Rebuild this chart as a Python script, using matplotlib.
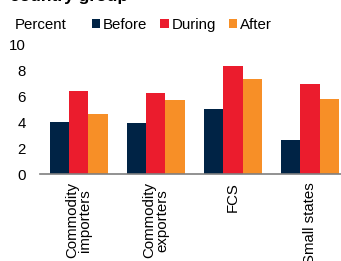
import matplotlib
matplotlib.use("Agg")
import matplotlib.pyplot as plt
import numpy as np

plt.rcParams['font.family'] = ['Liberation Sans', 'DejaVu Sans']

categories = ["Commodity\nimporters", "Commodity\nexporters", "FCS", "Small states"]
series_names = ["Before", "During", "After"]
before = [4.0, 3.9, 5.0, 2.6]
during = [6.4, 6.2, 8.3, 6.9]
after = [4.6, 5.7, 7.3, 5.8]
colors = ["#002345", "#EB1C2D", "#F78F27"]
yticks = [0, 2, 4, 6, 8, 10]

FS = 10.8

fig = plt.figure(figsize=(3.41, 2.61), dpi=100)
ax = fig.add_axes([40/341, 1 - 174/261, 301/341, 130/261])

x = np.arange(len(categories))
w = 0.25
for i, (vals, name, c) in enumerate(zip([before, during, after], series_names, colors)):
    ax.bar(x + (i - 1) * w, vals, width=w, color=c, label=name)

ax.set_ylim(0, 10)
ax.set_yticks(yticks)
ax.set_xlim(-0.5, 3.4)
ax.set_xticks(x)
ax.set_xticklabels(categories, rotation=90, va='top', ha='center', fontsize=FS, linespacing=0.95)
ax.tick_params(axis='both', length=0, labelsize=FS, colors='black')
ax.tick_params(axis='x', pad=6)
ax.tick_params(axis='y', pad=10)
for s in ['top', 'right', 'left']:
    ax.spines[s].set_visible(False)
ax.spines['bottom'].set_color('#7f7f7f')
ax.spines['bottom'].set_linewidth(1.2)

leg = fig.legend(*ax.get_legend_handles_labels(), loc='center left',
                 bbox_to_anchor=(92/341, 1 - 25/261), ncol=3, frameon=False,
                 fontsize=FS, handlelength=0.55, handleheight=0.55, handletextpad=0.2,
                 columnspacing=0.85, borderaxespad=0, borderpad=0)
fig.text(15/341, 1 - 25/261, "Percent", fontsize=FS, va='center', ha='left')
fig.text(10/341, 1 - 1/261, "country group", fontsize=12.5, fontweight='bold', va='baseline', ha='left')

fig.savefig("out.png", dpi=100)
